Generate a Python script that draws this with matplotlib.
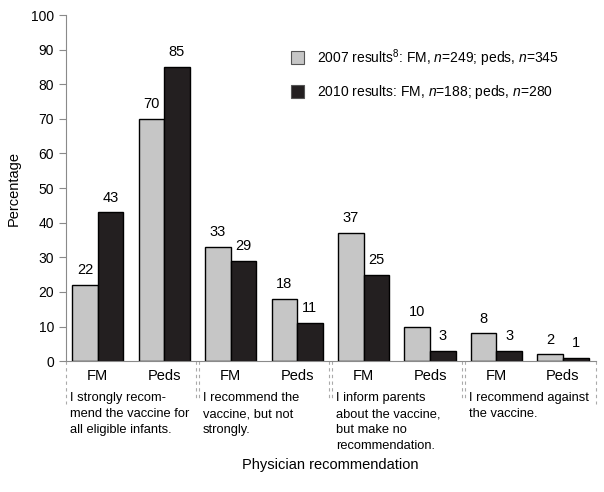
import numpy as np
import matplotlib.pyplot as plt
from matplotlib.patches import Rectangle

groups = ['FM', 'Peds', 'FM', 'Peds', 'FM', 'Peds', 'FM', 'Peds']
res_2007 = [22, 70, 33, 18, 37, 10, 8, 2]
res_2010 = [43, 85, 29, 11, 25, 3, 3, 1]
descriptions = ['I strongly recom-\nmend the vaccine for\nall eligible infants.',
                'I recommend the\nvaccine, but not\nstrongly.',
                'I inform parents\nabout the vaccine,\nbut make no\nrecommendation.',
                'I recommend against\nthe vaccine.']
legend_labels = ['2007 results$^{8}$: FM, $n$=249; peds, $n$=345',
                 '2010 results: FM, $n$=188; peds, $n$=280']

plt.rcParams['font.family'] = ['Liberation Sans', 'DejaVu Sans']
plt.rcParams['mathtext.fontset'] = 'custom'
plt.rcParams['mathtext.rm'] = 'Liberation Sans'
plt.rcParams['mathtext.it'] = 'Liberation Sans:italic'

gray = '#c6c6c6'
black = '#231f20'
axcol = '#8a8a8a'

fig = plt.figure(figsize=(6.04, 4.92), dpi=100)
ax = fig.add_axes([0.109, 0.266, 0.878, 0.7035])

x = np.arange(len(groups))
w = 0.385
ax.bar(x - w/2, res_2007, w, color=gray, edgecolor='black', linewidth=1.0)
ax.bar(x + w/2, res_2010, w, color=black, edgecolor='black', linewidth=1.0)
for i in range(len(groups)):
    ax.text(x[i] - w/2, res_2007[i] + 2.2, str(res_2007[i]), ha='center', va='bottom', fontsize=10.5)
    ax.text(x[i] + w/2, res_2010[i] + 2.2, str(res_2010[i]), ha='center', va='bottom', fontsize=10.5)

ax.set_xlim(-0.48, 7.5)
ax.set_ylim(0, 100)
ax.set_yticks(range(0, 101, 10))
ax.tick_params(axis='y', labelsize=10, color=axcol, length=5, width=0.8)
ax.set_xticks([])
for s in ['top', 'right']:
    ax.spines[s].set_visible(False)
ax.spines['left'].set_color(axcol)
ax.spines['bottom'].set_color(axcol)
ax.set_ylabel('Percentage', fontsize=10.5, labelpad=7)

trans = ax.get_xaxis_transform()
for i, g in enumerate(groups):
    ax.text(x[i], -0.022, g, transform=trans, ha='center', va='top', fontsize=10.5)

# dashed separators
sep_kw = dict(color='#aaaaaa', linestyle=(0, (3, 3)), linewidth=0.8, transform=trans, clip_on=False)
ax.plot([-0.48, -0.48], [0, -0.125], **sep_kw)
ax.plot([7.5, 7.5], [0, -0.125], **sep_kw)
for b in [1.5, 3.5, 5.5]:
    ax.plot([b - 0.025, b - 0.025], [0, -0.11], **sep_kw)
    ax.plot([b + 0.025, b + 0.025], [0, -0.11], **sep_kw)

for k, d in enumerate(descriptions):
    ax.text(2 * k - 0.42, -0.09, d, transform=trans, ha='left', va='top',
            fontsize=9.3, linespacing=1.45)

fig.text(0.547, 0.055, 'Physician recommendation', ha='center', va='center', fontsize=10.5)

# legend
for j, (lab, col) in enumerate(zip(legend_labels, [gray, black])):
    yy = 0.882 - j * 0.069
    fig.patches.append(Rectangle((0.482, yy - 0.013), 0.022, 0.027, transform=fig.transFigure,
                                 facecolor=col, edgecolor='#555555', linewidth=0.8))
    fig.text(0.525, yy, lab, ha='left', va='center', fontsize=10)

fig.savefig('out.png', dpi=100)
